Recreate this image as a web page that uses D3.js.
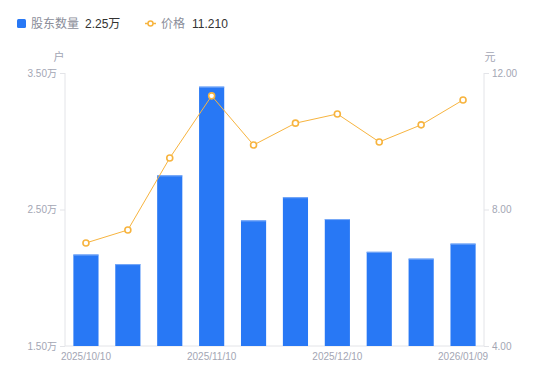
<html>
<head>
<meta charset="utf-8">
<script src="https://cdnjs.cloudflare.com/ajax/libs/d3/7.8.5/d3.min.js"></script>
<style>
  body { margin: 0; background: #fff; }
  text { font-family: "Liberation Sans", "Noto Sans CJK SC", sans-serif; }
</style>
</head>
<body>
<svg id="chart" width="550" height="381"></svg>
<script>
	// dates of the holder count reports
	var dates = ["2025/10/10", "2025/10/20", "2025/10/31", "2025/11/10", "2025/11/20",
	             "2025/11/28", "2025/12/10", "2025/12/19", "2025/12/31", "2026/01/09"]
	// number of holders, in 万户
	var holders = [2.17, 2.10, 2.75, 3.40, 2.42, 2.59, 2.43, 2.19, 2.14, 2.25]
	// price, in 元
	var prices = [7.02, 7.40, 9.51, 11.33, 9.89, 10.53, 10.80, 9.98, 10.48, 11.21]
	var leftTicks = [1.5, 2.5, 3.5]
	var rightTicks = [4, 8, 12]
	var shownDates = ["2025/10/10", "2025/11/10", "2025/12/10", "2026/01/09"]

	var svg = d3.select("#chart")
	var pLeft = 65, pRight = 484, pTop = 73, pBottom = 346
	var axisColor = "#e3e4e8", tickText = "#a3a6b4"
	var blue = "#2878f5", orange = "#f7b43f"
	var cjk = '"Noto Sans CJK SC", sans-serif'

	var x = d3.scaleBand().domain(dates).range([pLeft, pRight]).paddingInner(0.4).paddingOuter(0.2)
	var yL = d3.scaleLinear().domain([1.5, 3.5]).range([pBottom, pTop])
	var yR = d3.scaleLinear().domain([4, 12]).range([pBottom, pTop])

	// left axis
	var gl = svg.append("g").attr("transform", "translate(" + pLeft + ",0)")
		.call(d3.axisLeft(yL).tickValues(leftTicks).tickSize(5).tickPadding(3)
			.tickFormat(d => d.toFixed(2) + "万"))
	gl.select(".domain").attr("stroke", axisColor).attr("d", "M0," + pTop + "V" + pBottom)
	gl.selectAll(".tick line").attr("stroke", axisColor)
	gl.selectAll(".tick text").attr("fill", tickText).style("font-size", "10px")

	// right axis
	var gr = svg.append("g").attr("transform", "translate(" + pRight + ",0)")
		.call(d3.axisRight(yR).tickValues(rightTicks).tickSize(5).tickPadding(3)
			.tickFormat(d => d.toFixed(2)))
	gr.select(".domain").attr("stroke", axisColor).attr("d", "M0," + pTop + "V" + pBottom)
	gr.selectAll(".tick line").attr("stroke", axisColor)
	gr.selectAll(".tick text").attr("fill", tickText).style("font-size", "10px")

	// bottom axis
	var gb = svg.append("g").attr("transform", "translate(0," + pBottom + ")")
		.call(d3.axisBottom(x).tickValues(shownDates).tickSize(0).tickPadding(7))
	gb.select(".domain").attr("stroke", axisColor).attr("d", "M" + pLeft + ",0H" + pRight)
	gb.selectAll(".tick text").attr("fill", tickText).style("font-size", "10px")

	// unit labels
	svg.append("text").attr("x", 59).attr("y", 61).attr("text-anchor", "middle")
		.attr("fill", tickText).style("font-size", "11px").style("font-family", cjk).text("户")
	svg.append("text").attr("x", 490).attr("y", 61).attr("text-anchor", "middle")
		.attr("fill", tickText).style("font-size", "11px").style("font-family", cjk).text("元")

	// bars
	svg.selectAll("rect.bar").data(holders).enter().append("rect")
		.attr("class", "bar")
		.attr("x", (d, i) => x(dates[i]))
		.attr("y", d => yL(d))
		.attr("width", x.bandwidth())
		.attr("height", d => pBottom - yL(d))
		.attr("fill", blue)
	svg.selectAll("line.bartop").data(holders).enter().append("line")
		.attr("class", "bartop")
		.attr("x1", (d, i) => x(dates[i]))
		.attr("x2", (d, i) => x(dates[i]) + x.bandwidth())
		.attr("y1", d => yL(d) + 0.5)
		.attr("y2", d => yL(d) + 0.5)
		.attr("stroke", "#7aaaf7")

	// price line
	var cx = (d, i) => x(dates[i]) + x.bandwidth() / 2
	svg.append("path").datum(prices)
		.attr("fill", "none").attr("stroke", orange).attr("stroke-width", 1)
		.attr("d", d3.line().x(cx).y(d => yR(d)))
	svg.selectAll("circle.pt").data(prices).enter().append("circle")
		.attr("class", "pt")
		.attr("cx", cx).attr("cy", d => yR(d)).attr("r", 3)
		.attr("fill", "#fff").attr("stroke", orange).attr("stroke-width", 1.6)

	// legend
	svg.append("rect").attr("x", 17).attr("y", 19).attr("width", 9).attr("height", 9)
		.attr("rx", 1.5).attr("fill", blue)
	svg.append("text").attr("x", 31).attr("y", 28).attr("fill", "#8a8d99")
		.style("font-size", "12px").style("font-family", cjk).text("股东数量")
	svg.append("text").attr("x", 85).attr("y", 28).attr("fill", "#333")
		.style("font-size", "12px").text(holders[holders.length - 1].toFixed(2) + "万")

	svg.append("line").attr("x1", 145).attr("x2", 156).attr("y1", 23.5).attr("y2", 23.5)
		.attr("stroke", orange).attr("stroke-width", 1.5)
	svg.append("circle").attr("cx", 150.5).attr("cy", 23.5).attr("r", 2.5)
		.attr("fill", "#fff").attr("stroke", orange).attr("stroke-width", 1.5)
	svg.append("text").attr("x", 161).attr("y", 28).attr("fill", "#8a8d99")
		.style("font-size", "12px").style("font-family", cjk).text("价格")
	svg.append("text").attr("x", 192).attr("y", 28).attr("fill", "#333")
		.style("font-size", "12px").text(prices[prices.length - 1].toFixed(3))
</script>
</body>
</html>
